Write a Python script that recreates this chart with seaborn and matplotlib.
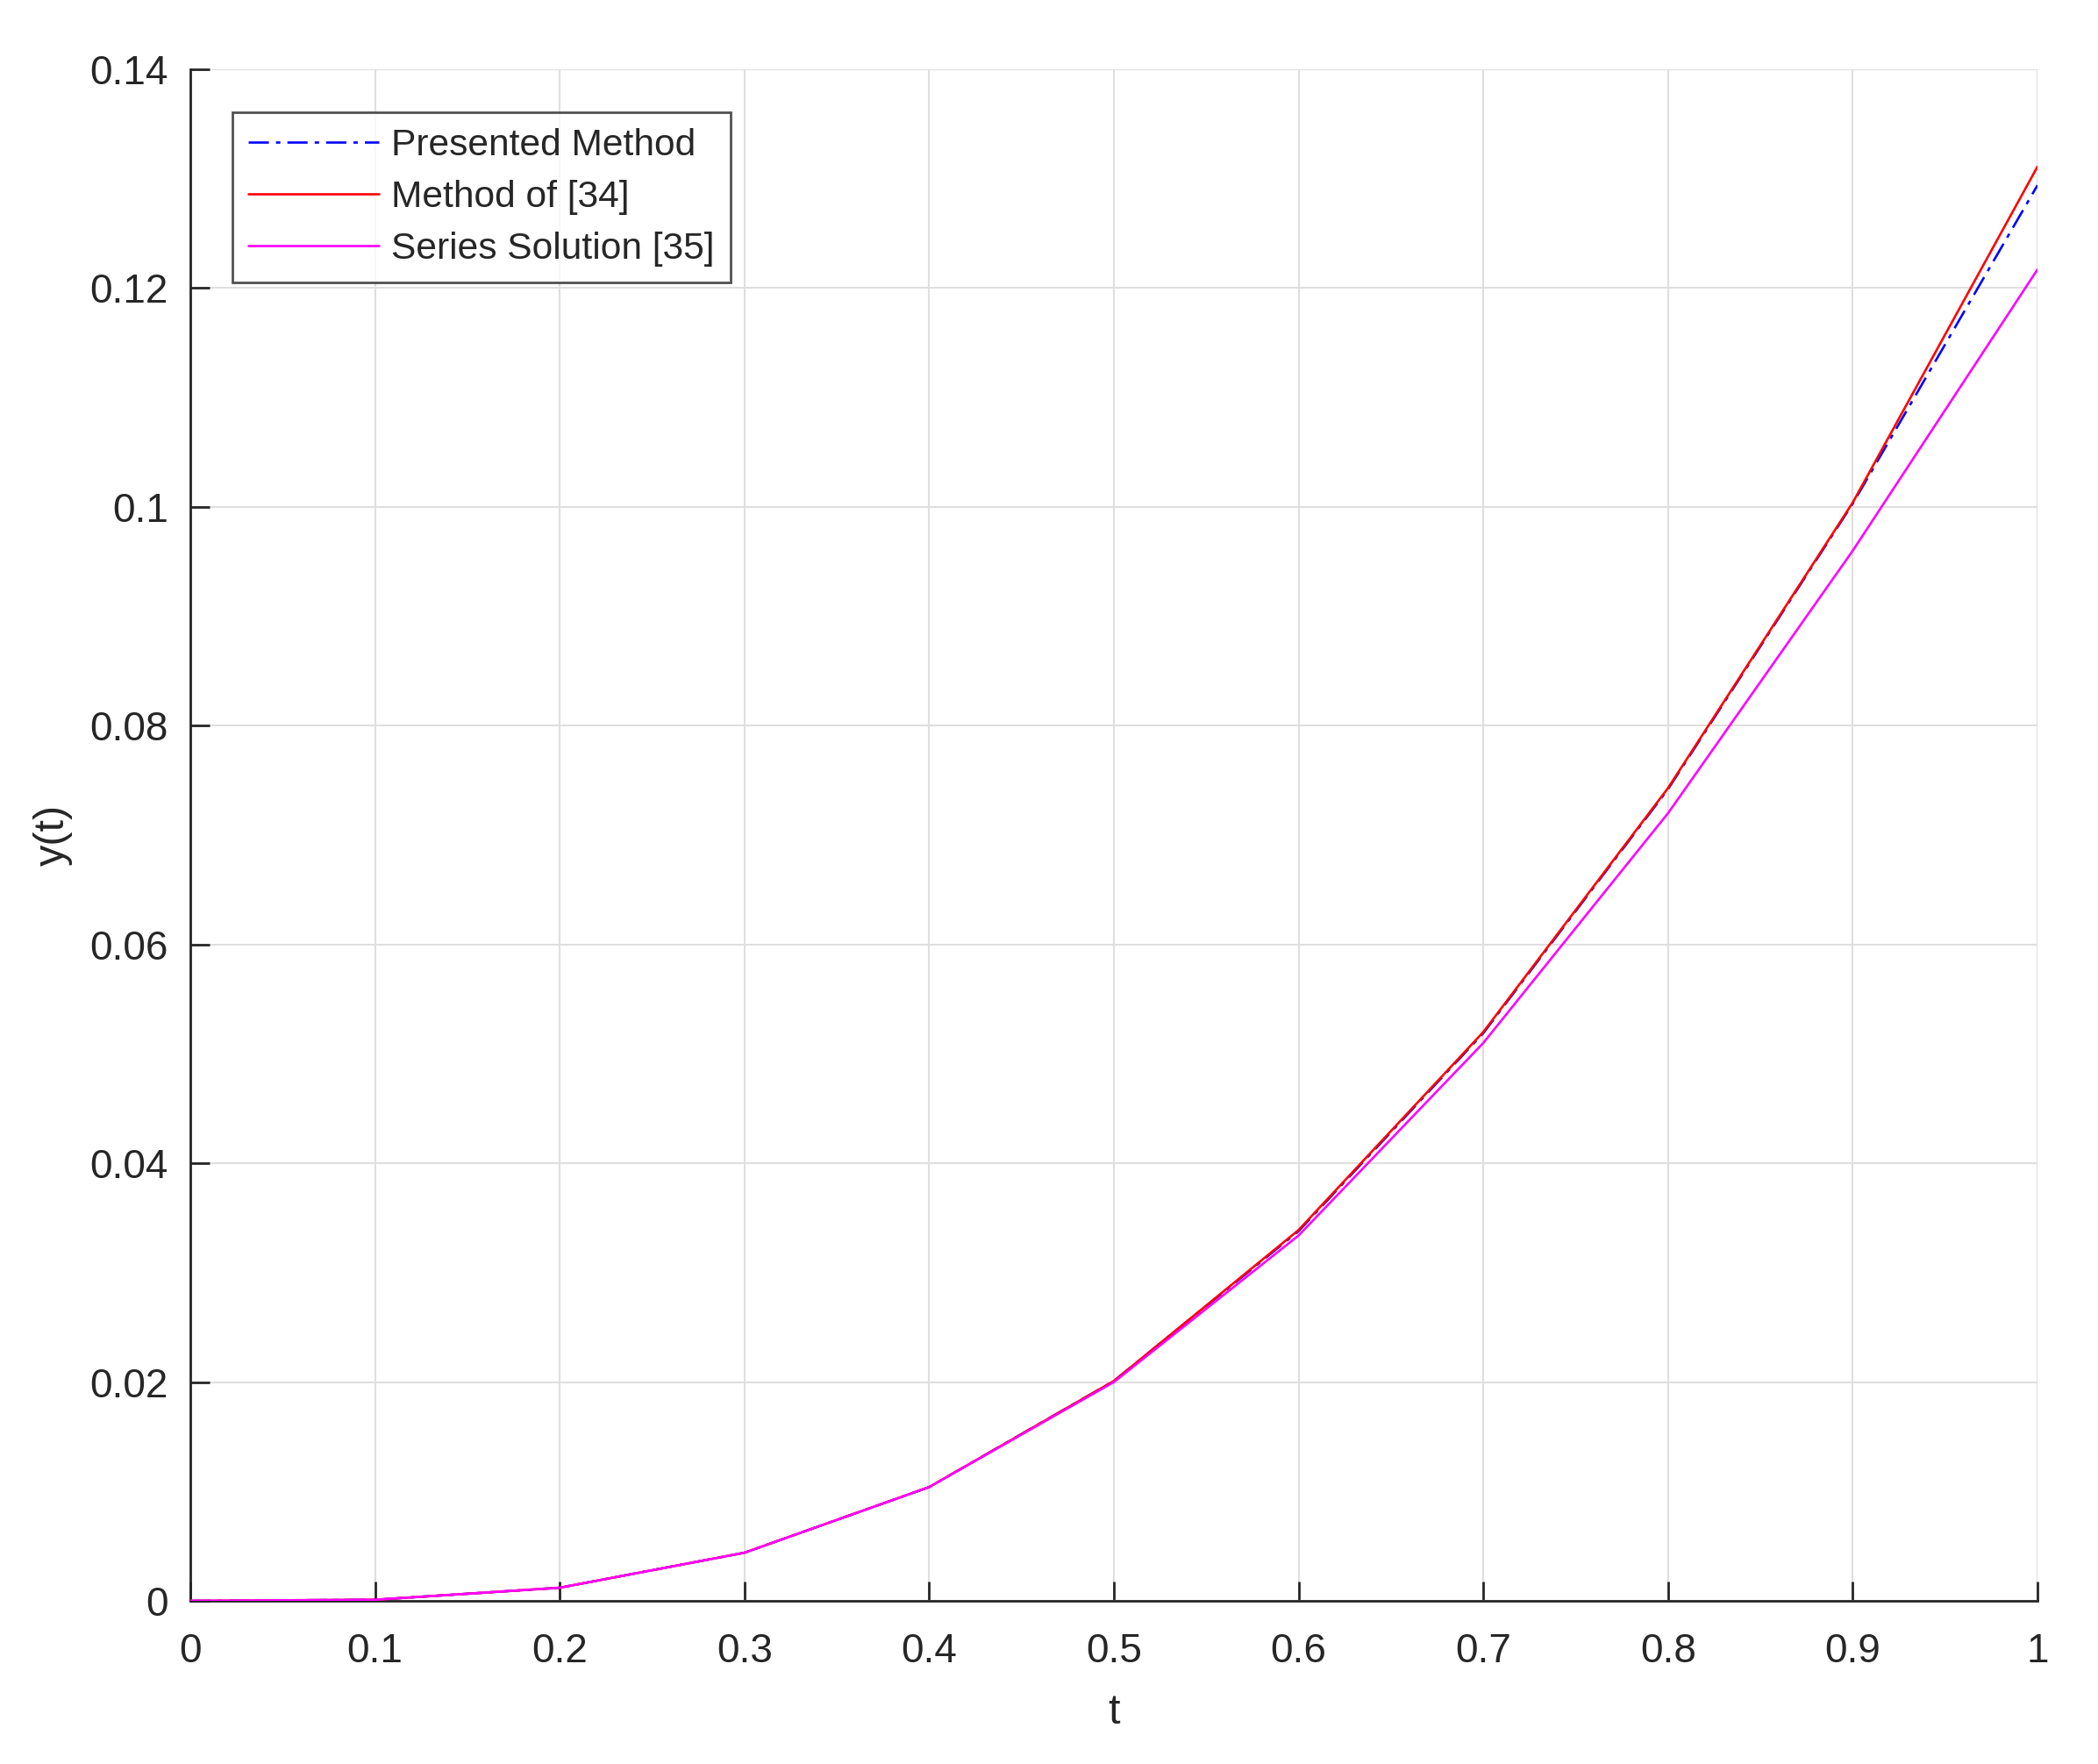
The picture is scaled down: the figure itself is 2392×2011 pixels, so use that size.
import numpy as np
import pandas as pd
import matplotlib
matplotlib.use("Agg")
import matplotlib.pyplot as plt
import seaborn as sns

# ---- data ----
t = [0.0, 0.1, 0.2, 0.3, 0.4, 0.5, 0.6, 0.7, 0.8, 0.9, 1.0]
presented = [0.0, 0.0001, 0.0012, 0.0044, 0.0104, 0.0201, 0.0338, 0.0519, 0.0742, 0.1003, 0.1294]
method34 = [0.0, 0.0001, 0.0012, 0.0044, 0.0104, 0.0201, 0.0339, 0.0520, 0.0743, 0.1004, 0.1311]
series35 = [0.0, 0.0001, 0.0012, 0.0044, 0.0104, 0.0200, 0.0334, 0.0510, 0.0720, 0.0960, 0.1217]
labels = ["Presented Method", "Method of [34]", "Series Solution [35]"]
xticks = [0, 0.1, 0.2, 0.3, 0.4, 0.5, 0.6, 0.7, 0.8, 0.9, 1]
xticklabels = ["0", "0.1", "0.2", "0.3", "0.4", "0.5", "0.6", "0.7", "0.8", "0.9", "1"]
yticks = [0, 0.02, 0.04, 0.06, 0.08, 0.1, 0.12, 0.14]
yticklabels = ["0", "0.02", "0.04", "0.06", "0.08", "0.1", "0.12", "0.14"]

sns.set_style("ticks")
plt.rcParams["font.family"] = ["Liberation Sans", "DejaVu Sans"]
plt.rcParams["lines.scale_dashes"] = False

fig = plt.figure(figsize=(11.96, 10.055), dpi=200)
ax = fig.add_axes([217 / 2392, 1 - 1825 / 2011, (2323 - 217) / 2392, (1825 - 79) / 2011])

lw = 0.95
sns.lineplot(x=t, y=presented, ax=ax, color=(0, 0, 1), lw=lw, label=labels[0], zorder=2)
ax.lines[-1].set_dashes((8.3, 2.9, 1.8, 2.9))
sns.lineplot(x=t, y=method34, ax=ax, color=(1, 0, 0), lw=lw, label=labels[1], zorder=3)
sns.lineplot(x=t, y=series35, ax=ax, color=(1, 0, 1), lw=lw, label=labels[2], zorder=4)

ax.set_xlim(0, 1)
ax.set_ylim(0, 0.14)
ax.set_xticks(xticks)
ax.set_xticklabels(xticklabels)
ax.set_yticks(yticks)
ax.set_yticklabels(yticklabels)

ax.grid(True, color="#dfdfdf", lw=0.75, zorder=0)
ax.set_axisbelow(True)
for s in ["top", "right"]:
    ax.spines[s].set_visible(False)
for s in ["left", "bottom"]:
    ax.spines[s].set_color("#262626")
    ax.spines[s].set_linewidth(1.0)

ax.tick_params(axis="both", direction="in", length=8, width=1.0, color="#262626",
               labelsize=16.5, labelcolor="#262626")
ax.tick_params(axis="x", pad=13)
ax.tick_params(axis="y", pad=9)

ax.set_xlabel("t", fontsize=17.5, color="#262626", labelpad=9)
ax.set_ylabel("y(t)", fontsize=17.5, color="#262626", labelpad=7)

leg = ax.legend(loc="upper left", bbox_to_anchor=(0.0228, 0.972), borderaxespad=0,
                fontsize=15.3, frameon=True, fancybox=False, edgecolor="#262626",
                handlelength=3.5, handletextpad=0.35, labelspacing=0.45,
                borderpad=0.42)
leg.get_frame().set_linewidth(1.0)

fig.savefig("out.png", dpi=200, facecolor="white")
